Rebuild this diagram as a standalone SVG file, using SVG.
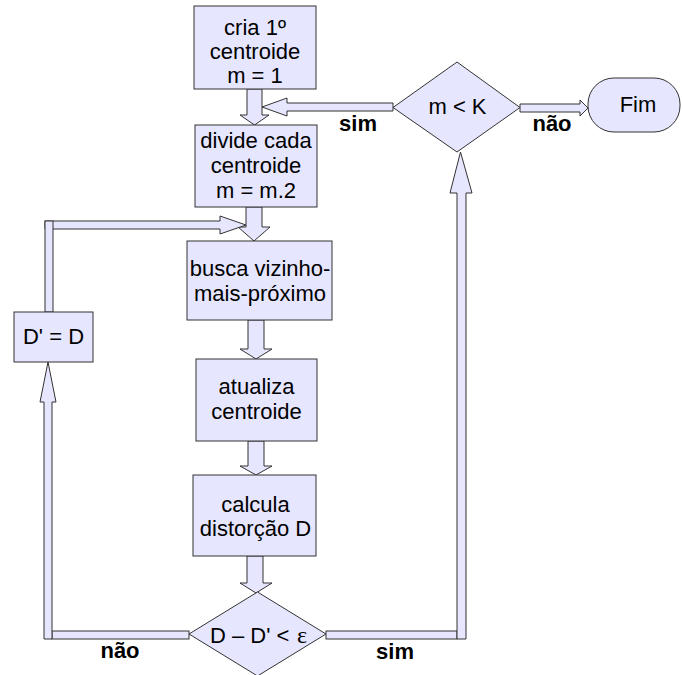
<svg xmlns="http://www.w3.org/2000/svg" width="683" height="675" viewBox="0 0 683 675">
  <style>
    .shape { fill: #e6e6ff; stroke: #333333; stroke-width: 1; }
    .conn { fill: #e6e6ff; stroke: #333333; stroke-width: 1; stroke-linejoin: miter; }
    .lbl { font-family: "Liberation Sans", Arial, sans-serif; font-size: 22px; fill: #000000; text-anchor: middle; }
    .greek { font-family: "Liberation Serif", "Times New Roman", serif; font-size: 24px; fill: #000000; text-anchor: middle; }
    .edge { font-family: "Liberation Sans", Arial, sans-serif; font-size: 22px; font-weight: bold; fill: #000000; text-anchor: middle; }
  </style>
  <rect width="683" height="675" fill="#ffffff"/>

  <!-- block-arrow connectors -->
  <g id="connectors">
    <!-- cria -> divide -->
    <polygon class="conn" points="247,89 262,89 262,115 269,115 254.5,125 240,115 247,115"/>
    <!-- m < K (sim) -> back into the flow -->
    <polygon class="conn" points="393,103 287,103 287,98 262,107 287,116 287,111 393,111"/>
    <!-- m < K (não) -> Fim -->
    <polygon class="conn" points="520,104 580,104 580,100 588,108 580,116 580,112 520,112"/>
    <!-- divide -> busca -->
    <polygon class="conn" points="246,207 262,207 262,227 270,227 254,241 238,227 246,227"/>
    <!-- D' = D -> loop back above busca -->
    <polygon class="conn" points="45,221 220,221 220,216 246,225 220,234 220,229 45,229"/>
    <rect class="conn" x="45" y="221" width="8" height="91"/>
    <!-- busca -> atualiza -->
    <polygon class="conn" points="248,320 264,320 264,349 272,349 256,359 240,349 248,349"/>
    <!-- atualiza -> calcula -->
    <polygon class="conn" points="248,441 264,441 264,466 272,466 256,475 240,466 248,466"/>
    <!-- calcula -> decision -->
    <polygon class="conn" points="247,556 263,556 263,583 272,583 256,593 240,583 247,583"/>
    <!-- decision (não) -> D' = D -->
    <rect class="conn" x="52" y="631" width="137" height="8"/>
    <polygon class="conn" points="44,639 44,402 40,402 48,362 56,402 52,402 52,639"/>
    <!-- decision (sim) -> m < K -->
    <rect class="conn" x="326" y="631" width="131" height="8"/>
    <polygon class="conn" points="457,639 457,193 450,193 460.5,152 472,193 466,193 466,639"/>
  </g>

  <g id="n-cria">
    <rect class="shape" x="194" y="6" width="122" height="83"/>
    <text class="lbl" x="255" y="35">cria 1º</text>
    <text class="lbl" x="255" y="59">centroide</text>
    <text class="lbl" x="255" y="83">m = 1</text>
  </g>

  <g id="n-divide">
    <rect class="shape" x="195" y="125" width="122" height="82"/>
    <text class="lbl" x="256" y="148">divide cada</text>
    <text class="lbl" x="256" y="173">centroide</text>
    <text class="lbl" x="256" y="198">m = m.2</text>
  </g>

  <g id="n-busca">
    <rect class="shape" x="187" y="241" width="145" height="79"/>
    <text class="lbl" x="260" y="276">busca vizinho-</text>
    <text class="lbl" x="260" y="301">mais-próximo</text>
  </g>

  <g id="n-atualiza">
    <rect class="shape" x="196" y="359" width="121" height="82"/>
    <text class="lbl" x="256.5" y="394">atualiza</text>
    <text class="lbl" x="256.5" y="419">centroide</text>
  </g>

  <g id="n-calcula">
    <rect class="shape" x="193" y="475" width="123" height="81"/>
    <text class="lbl" x="255.5" y="512">calcula</text>
    <text class="lbl" x="255.5" y="536">distorção D</text>
  </g>

  <g id="n-teste-d">
    <polygon class="shape" points="257.5,592 326,634 257.5,676 189,634"/>
    <text class="lbl" x="210" y="643" style="text-anchor:start">D – D' &lt;</text>
    <text class="greek" x="302" y="643">ε</text>
  </g>

  <g id="n-d-linha">
    <rect class="shape" x="14" y="312" width="79" height="50"/>
    <text class="lbl" x="53.5" y="344">D' = D</text>
  </g>

  <g id="n-teste-m">
    <polygon class="shape" points="457,62 520,107.5 457,152 393,107.5"/>
    <text class="lbl" x="457.5" y="114">m &lt; K</text>
  </g>

  <g id="n-fim">
    <rect class="shape" x="588" y="78" width="92" height="54" rx="26" ry="26"/>
    <text class="lbl" x="638" y="112">Fim</text>
  </g>

  <g id="edge-labels">
    <text class="edge" x="358" y="131">sim</text>
    <text class="edge" x="552" y="131">não</text>
    <text class="edge" x="120" y="658">não</text>
    <text class="edge" x="395" y="659">sim</text>
  </g>
</svg>
